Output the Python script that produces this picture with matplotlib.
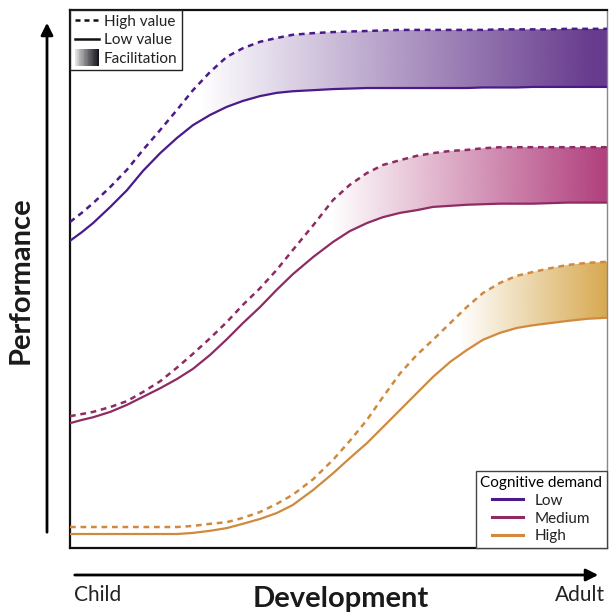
import numpy as np
import matplotlib
matplotlib.use('Agg')
import matplotlib.pyplot as plt
from matplotlib.path import Path
from matplotlib.patches import PathPatch, Rectangle, FancyArrowPatch
from matplotlib.lines import Line2D
from matplotlib.legend_handler import HandlerBase
from matplotlib.colors import to_rgb

plt.rcParams['font.family'] = ['Lato', 'DejaVu Sans']

# Development (x) and performance (y) values, 0..100
dev = [0, 2.2, 4.3, 7.5, 10.6, 13.6, 16.8, 19.9, 22.9, 26.1, 29.2, 32.2, 35.4, 38.5, 41.5,
       45.3, 49.0, 52.1, 55.3, 58.3, 61.5, 64.6, 67.6, 70.8, 73.9, 76.9, 80.1, 83.2, 86.2,
       89.4, 92.6, 96.3, 100]

low_lo = [57.1, 58.7, 60.4, 63.4, 66.5, 70.1, 73.4, 76.2, 78.6, 80.5, 82.0, 83.1, 84.0, 84.6,
          84.9, 85.1, 85.3, 85.4, 85.5, 85.5, 85.5, 85.5, 85.5, 85.5, 85.5, 85.6, 85.6, 85.6,
          85.7, 85.7, 85.7, 85.7, 85.7]
low_hi = [60.6, 62.3, 64.1, 67.1, 70.3, 74.0, 77.7, 81.4, 85.1, 88.5, 91.3, 92.9, 94.1, 94.8,
          95.4, 95.7, 95.9, 96.0, 96.1, 96.2, 96.3, 96.3, 96.3, 96.3, 96.3, 96.3, 96.4, 96.4,
          96.4, 96.4, 96.5, 96.5, 96.5]

med_lo = [23.2, 23.8, 24.3, 25.3, 26.6, 28.1, 29.7, 31.4, 33.3, 35.9, 38.8, 41.8, 44.8, 48.0,
          50.9, 54.1, 56.9, 58.9, 60.4, 61.5, 62.3, 62.8, 63.4, 63.6, 63.8, 63.9, 64.0, 64.0,
          64.0, 64.1, 64.2, 64.2, 64.2]
med_hi = [24.5, 24.9, 25.3, 26.2, 27.3, 29.0, 31.0, 33.5, 36.1, 39.0, 42.0, 45.2, 48.3, 51.7,
          55.4, 60.0, 64.7, 67.5, 69.7, 71.2, 72.1, 72.9, 73.4, 73.8, 74.0, 74.3, 74.5, 74.5,
          74.5, 74.5, 74.5, 74.5, 74.5]

high_lo = [2.6, 2.6, 2.6, 2.6, 2.6, 2.6, 2.6, 2.6, 2.8, 3.2, 3.7, 4.5, 5.4, 6.5, 8.0, 10.8,
           13.9, 16.7, 19.5, 22.5, 25.7, 28.8, 31.8, 34.6, 36.8, 38.7, 40.0, 40.9, 41.4, 41.8,
           42.2, 42.6, 42.8]
high_hi = [3.9, 3.9, 3.9, 3.9, 3.9, 3.9, 3.9, 3.9, 4.1, 4.5, 4.8, 5.6, 6.7, 8.2, 9.9, 12.8,
           16.4, 19.9, 23.8, 28.1, 32.5, 35.9, 38.7, 41.8, 44.8, 47.4, 49.3, 50.6, 51.3, 52.0,
           52.6, 53.0, 53.2]

demand_names = ['Low', 'Medium', 'High']
line_colors = ['#4A1A8A', '#8E2B63', '#D08A3E']
fill_colors = ['#673B8E', '#B2427F', '#D6A64A']
# where the facilitation shading starts / reaches full colour
fade_start = [24, 48.5, 72.5]
fade_end = [97, 99, 101]


def grad_fill(ax, x, lo, hi, color, x0, x1):
    verts = np.column_stack([np.r_[x, x[::-1]], np.r_[hi, lo[::-1]]])
    patch = PathPatch(Path(verts), facecolor='none', edgecolor='none')
    ax.add_patch(patch)
    xs = np.linspace(0, 100, 500)
    a = np.clip((xs - x0) / (x1 - x0), 0, 1)
    img = np.zeros((1, len(xs), 4))
    img[..., :3] = to_rgb(color)
    img[..., 3] = a
    im = ax.imshow(img, extent=[0, 100, 0, 100], aspect='auto', origin='lower',
                   interpolation='bilinear', zorder=1)
    im.set_clip_path(patch)


class GradHandler(HandlerBase):
    def create_artists(self, legend, orig_handle, xdescent, ydescent,
                       width, height, fontsize, trans):
        n = 30
        arts = []
        for i in range(n):
            r = Rectangle((-xdescent + width * i / n, -ydescent - 2), width / n, height + 4,
                          facecolor='#15151f', alpha=((i + 1) / n) ** 0.8, edgecolor='none',
                          antialiased=False, transform=trans)
            arts.append(r)
        return arts


fig = plt.figure(figsize=(6.09, 6.12), dpi=100)
ax = fig.add_axes([70 / 609, 64 / 612, 537 / 609, 538 / 612])

groups = [(low_lo, low_hi), (med_lo, med_hi), (high_lo, high_hi)]
x = np.array(dev)
for (lo, hi), lc, fc, s, e in zip(groups, line_colors, fill_colors, fade_start, fade_end):
    grad_fill(ax, x, np.array(lo), np.array(hi), fc, s, e)
    ax.plot(x, lo, color=lc, lw=1.6, zorder=3)
    ax.plot(x, hi, color=lc, lw=1.8, ls=(0, (2.3, 1.9)), zorder=3)

ax.set_xlim(0, 100)
ax.set_ylim(0, 100)
ax.set_xticks([])
ax.set_yticks([])
for side in ['left', 'bottom', 'top']:
    ax.spines[side].set_linewidth(1.6)
    ax.spines[side].set_color('#111111')
ax.spines['right'].set_linewidth(1.0)
ax.spines['right'].set_color('#888888')

# legend for line style / shading
h1 = [Line2D([], [], color='#111111', lw=1.8, ls=(0, (2.0, 1.6))),
      Line2D([], [], color='#111111', lw=1.8),
      'grad']
leg1 = ax.legend(h1, ['High value', 'Low value', 'Facilitation'], loc='upper left',
                 borderaxespad=0, fancybox=False, edgecolor='#222222', framealpha=1,
                 handlelength=1.6, handletextpad=0.3, labelspacing=0.3,
                 borderpad=0.3, fontsize=11, handler_map={str: GradHandler()})
leg1.get_frame().set_linewidth(1.0)
for t in leg1.get_texts():
    t.set_color('#222222')
ax.add_artist(leg1)

# legend for cognitive demand
h2 = [Line2D([], [], color=c, lw=2.2) for c in line_colors]
leg2 = ax.legend(h2, demand_names, title='Cognitive demand', loc='lower right',
                 borderaxespad=0, fancybox=False, edgecolor='#444444', framealpha=1,
                 handlelength=2.0, handletextpad=0.8, labelspacing=0.25,
                 borderpad=0.3, fontsize=11, title_fontsize=11)
leg2.get_frame().set_linewidth(1.0)
for t in leg2.get_texts():
    t.set_color('#222222')

# axis arrows
fig.add_artist(FancyArrowPatch(
    (47 / 609, 1 - 535 / 612), (47 / 609, 1 - 20 / 612), transform=fig.transFigure,
    arrowstyle='-|>', mutation_scale=18, lw=2, color='black'))
fig.add_artist(FancyArrowPatch(
    (72 / 609, 1 - 575 / 612), (601 / 609, 1 - 575 / 612), transform=fig.transFigure,
    arrowstyle='-|>', mutation_scale=18, lw=2, color='black'))

fig.text(21 / 609, 1 - 280 / 612, 'Performance', rotation=90, ha='center', va='center',
         fontsize=21, fontweight='bold', color='#1a1a1a')
fig.text(341 / 609, 1 - 599 / 612, 'Development', ha='center', va='center',
         fontsize=21, fontweight='bold', color='#1a1a1a')
fig.text(98 / 609, 1 - 595 / 612, 'Child', ha='center', va='center', fontsize=15, color='#222222')
fig.text(580 / 609, 1 - 595 / 612, 'Adult', ha='center', va='center', fontsize=15, color='#222222')

fig.savefig('out.png', dpi=100)
